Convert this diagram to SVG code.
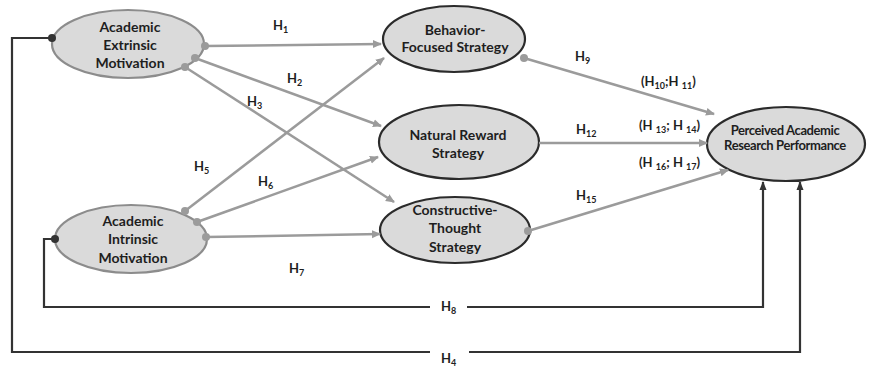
<svg xmlns="http://www.w3.org/2000/svg" width="869" height="370" viewBox="0 0 869 370">
<style>
.node ellipse{fill:#dadada;stroke-width:2.2}
.dark ellipse{stroke:#2b2b2b}
.light ellipse{stroke:#8c8c8c}
.nt{font-family:Lato,"Liberation Sans",sans-serif;font-weight:bold;font-size:14px;fill:#1e1e1e;text-anchor:middle}
.g{stroke:#9b9b9b;stroke-width:2.5;fill:none;marker-end:url(#ag)}
.k{stroke:#333;stroke-width:2.2;fill:none;marker-end:url(#ak)}
.gd{fill:#9b9b9b}
.kd{fill:#333}
.lb{font-family:Lato,"Liberation Sans",sans-serif;font-weight:bold;font-size:13px;fill:#1e1e1e}
.sub{font-size:9px}
</style>
<defs>
<marker id="ag" markerWidth="10" markerHeight="10" refX="8" refY="5" orient="auto" markerUnits="userSpaceOnUse"><path d="M0,1 L9,5 L0,9 Z" fill="#9b9b9b"/></marker>
<marker id="ak" markerWidth="10" markerHeight="10" refX="8" refY="5" orient="auto" markerUnits="userSpaceOnUse"><path d="M0,1.5 L9,5 L0,8.5 Z" fill="#333"/></marker>
</defs>
<rect width="869" height="370" fill="#fff"/>
<g id="extrinsic" class="node light">
<ellipse cx="128" cy="44" rx="76" ry="34"/>
<text class="nt" x="130" y="32">Academic</text>
<text class="nt" x="130" y="50">Extrinsic</text>
<text class="nt" x="130" y="68">Motivation</text>
</g>
<g id="intrinsic" class="node light">
<ellipse cx="131" cy="239" rx="76" ry="34"/>
<text class="nt" x="133" y="226">Academic</text>
<text class="nt" x="133" y="244">Intrinsic</text>
<text class="nt" x="133" y="263">Motivation</text>
</g>
<g id="behavior" class="node dark">
<ellipse cx="454" cy="39" rx="71" ry="33"/>
<text class="nt" x="455" y="35">Behavior-</text>
<text class="nt" x="455" y="52">Focused Strategy</text>
</g>
<g id="natural" class="node dark">
<ellipse cx="459" cy="142" rx="80" ry="37"/>
<text class="nt" x="458" y="140">Natural Reward</text>
<text class="nt" x="458" y="158">Strategy</text>
</g>
<g id="constructive" class="node dark">
<ellipse cx="455" cy="230" rx="75" ry="33"/>
<text class="nt" x="455" y="215">Constructive-</text>
<text class="nt" x="455" y="233">Thought</text>
<text class="nt" x="455" y="252">Strategy</text>
</g>
<g id="perceived" class="node dark">
<ellipse cx="786" cy="144" rx="79" ry="37"/>
<text class="nt" x="785" y="135" style="font-size:13px;letter-spacing:-0.4px">Perceived Academic</text>
<text class="nt" x="785" y="150" style="font-size:13px;letter-spacing:-0.4px">Research Performance</text>
</g>
<g id="connectors">
<path class="k" d="M52,38 H12 V352 H430 M469,352 H800 V182"/>
<path class="k" d="M55,239 H44 V307 H430 M467,307 H763 V182"/>
<circle class="kd" cx="52" cy="38" r="4"/>
<circle class="kd" cx="55" cy="239" r="4"/>
<path class="g" d="M205,46 L381,44"/>
<path class="g" d="M195,58 L381,126"/>
<path class="g" d="M185,67 L394,202"/>
<path class="g" d="M185,211 L384,58"/>
<path class="g" d="M197,222 L378,157"/>
<path class="g" d="M206,237 L380,234"/>
<path class="g" d="M524,58 L714,114"/>
<path class="g" d="M539,143 L707,143"/>
<path class="g" d="M528,231 L728,170"/>
<circle class="gd" cx="205" cy="46" r="4"/>
<circle class="gd" cx="195" cy="58" r="4"/>
<circle class="gd" cx="185" cy="67" r="4"/>
<circle class="gd" cx="185" cy="211" r="4"/>
<circle class="gd" cx="197" cy="222" r="4"/>
<circle class="gd" cx="206" cy="237" r="4"/>
<circle class="gd" cx="524" cy="58" r="4"/>
<circle class="gd" cx="528" cy="231" r="4"/>
<text class="lb" x="273" y="30">H<tspan class="sub" dy="3">1</tspan></text>
<text class="lb" x="287" y="83">H<tspan class="sub" dy="3">2</tspan></text>
<text class="lb" x="247" y="106">H<tspan class="sub" dy="3">3</tspan></text>
<text class="lb" x="194" y="171">H<tspan class="sub" dy="3">5</tspan></text>
<text class="lb" x="258" y="186">H<tspan class="sub" dy="3">6</tspan></text>
<text class="lb" x="289" y="273">H<tspan class="sub" dy="3">7</tspan></text>
<text class="lb" x="441" y="311">H<tspan class="sub" dy="3">8</tspan></text>
<text class="lb" x="441" y="363">H<tspan class="sub" dy="3">4</tspan></text>
<text class="lb" x="575" y="61">H<tspan class="sub" dy="3">9</tspan></text>
<text class="lb" x="641" y="86">(H<tspan class="sub" dy="3">10</tspan><tspan dy="-3">;H </tspan><tspan class="sub" dy="3">11</tspan><tspan dy="-3">)</tspan></text>
<text class="lb" x="576" y="134">H<tspan class="sub" dy="3">12</tspan></text>
<text class="lb" x="639" y="130">(H <tspan class="sub" dy="3">13</tspan><tspan dy="-3">; H </tspan><tspan class="sub" dy="3">14</tspan><tspan dy="-3">)</tspan></text>
<text class="lb" x="639" y="167">(H <tspan class="sub" dy="3">16</tspan><tspan dy="-3">; H </tspan><tspan class="sub" dy="3">17</tspan><tspan dy="-3">)</tspan></text>
<text class="lb" x="576" y="200">H<tspan class="sub" dy="3">15</tspan></text>
</g>
</svg>
